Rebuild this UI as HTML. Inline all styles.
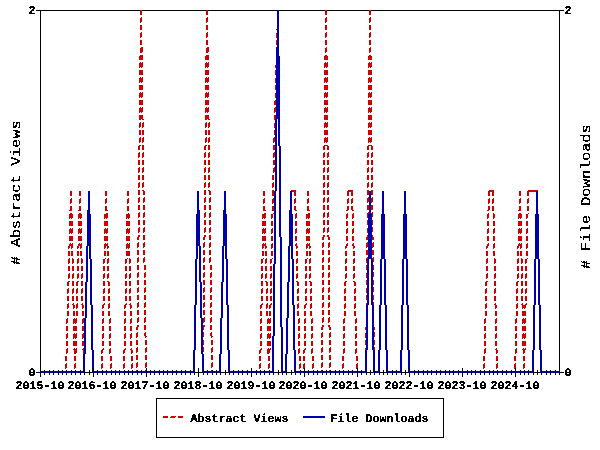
<!DOCTYPE html>
<html><head><meta charset="utf-8"><title>Abstract Views and File Downloads</title><style>
html,body{margin:0;padding:0;background:#fff;width:600px;height:450px;overflow:hidden;}
svg{display:block;will-change:transform;}
.t{font-family:"Liberation Mono",monospace;font-weight:bold;font-size:11.67px;letter-spacing:0.000px;fill:#000;text-rendering:geometricPrecision;}
.l{font-family:"Liberation Mono",monospace;font-weight:normal;font-size:14.75px;letter-spacing:0.000px;fill:#000;text-rendering:geometricPrecision;}
</style></head><body>
<svg width="600" height="450" viewBox="0 0 600 450">
<rect width="600" height="450" fill="#fff"/>
<defs><filter id="bt" x="0" y="0" width="600" height="450" filterUnits="userSpaceOnUse"><feComponentTransfer><feFuncA type="discrete" tableValues="0 1 1"/></feComponentTransfer></filter><filter id="bl" x="0" y="0" width="600" height="450" filterUnits="userSpaceOnUse"><feComponentTransfer><feFuncA type="discrete" tableValues="0 1 1"/></feComponentTransfer></filter></defs>
<path fill="#000" shape-rendering="crispEdges" d="M279 10h46v1h-46zM208 10h69v1h-69zM142 10h64v1h-64zM327 10h42v1h-42zM371 10h193v1h-193zM36 10h104v1h-104zM559 11h1v361h-1zM40 11h1v361h-1zM198 368h1v4h-1zM379 370h1v2h-1zM537 370h1v2h-1zM225 370h1v2h-1zM533 370h1v2h-1zM291 370h1v2h-1zM383 370h1v2h-1zM273 370h1v2h-1zM89 370h1v2h-1zM84 370h1v2h-1zM278 370h1v2h-1zM370 370h1v2h-1zM366 370h1v2h-1zM220 370h1v2h-1zM194 370h1v2h-1zM405 370h1v2h-1zM286 370h1v2h-1zM401 370h1v2h-1zM366 372h7v1h-7zM401 372h7v1h-7zM559 372h5v1h-5zM36 372h5v1h-5zM273 372h8v1h-8zM533 372h7v1h-7zM379 372h7v1h-7zM84 372h8v1h-8zM220 372h8v1h-8zM194 372h8v1h-8zM286 372h8v1h-8zM163 370h1v5h-1zM489 370h1v5h-1zM260 370h1v5h-1zM44 370h1v5h-1zM471 370h1v5h-1zM159 370h1v5h-1zM352 370h1v5h-1zM256 370h1v5h-1zM467 370h1v5h-1zM132 370h1v5h-1zM343 370h1v5h-1zM137 370h1v5h-1zM247 370h1v5h-1zM445 370h1v5h-1zM229 370h1v5h-1zM106 370h1v5h-1zM317 370h1v5h-1zM111 370h1v5h-1zM203 370h1v5h-1zM511 370h1v5h-1zM295 370h1v5h-1zM264 370h1v5h-1zM80 370h1v5h-1zM75 370h1v5h-1zM71 370h1v5h-1zM475 370h1v5h-1zM269 370h1v5h-1zM233 370h1v5h-1zM49 370h1v5h-1zM541 370h1v5h-1zM449 370h1v5h-1zM207 370h1v5h-1zM115 370h1v5h-1zM326 370h1v5h-1zM423 370h1v5h-1zM322 370h1v5h-1zM387 370h1v5h-1zM181 370h1v5h-1zM520 370h1v5h-1zM414 370h1v5h-1zM167 370h1v5h-1zM300 370h1v5h-1zM53 370h1v5h-1zM361 370h1v5h-1zM453 370h1v5h-1zM141 370h1v5h-1zM480 370h1v5h-1zM339 370h1v5h-1zM238 370h1v5h-1zM431 370h1v5h-1zM335 370h1v5h-1zM119 370h1v5h-1zM546 370h1v5h-1zM330 370h1v5h-1zM427 370h1v5h-1zM97 370h1v5h-1zM418 370h1v5h-1zM212 370h1v5h-1zM185 370h1v5h-1zM396 370h1v5h-1zM392 370h1v5h-1zM176 370h1v5h-1zM374 370h1v5h-1zM484 370h1v5h-1zM62 370h1v5h-1zM154 370h1v5h-1zM58 370h1v5h-1zM150 370h1v5h-1zM348 370h1v5h-1zM242 370h1v5h-1zM458 370h1v5h-1zM440 370h1v5h-1zM550 370h1v5h-1zM128 370h1v5h-1zM555 370h1v5h-1zM436 370h1v5h-1zM124 370h1v5h-1zM528 370h1v5h-1zM216 370h1v5h-1zM524 370h1v5h-1zM308 370h1v5h-1zM102 370h1v5h-1zM313 370h1v5h-1zM506 370h1v5h-1zM502 370h1v5h-1zM497 370h1v5h-1zM190 370h1v5h-1zM172 370h1v5h-1zM66 370h1v5h-1zM282 370h1v5h-1zM493 370h1v5h-1zM379 373h1v2h-1zM559 373h1v2h-1zM537 373h1v2h-1zM225 373h1v2h-1zM533 373h1v2h-1zM291 373h1v2h-1zM383 373h1v2h-1zM273 373h1v2h-1zM89 373h1v2h-1zM84 373h1v2h-1zM278 373h1v2h-1zM370 373h1v2h-1zM366 373h1v2h-1zM220 373h1v2h-1zM194 373h1v2h-1zM405 373h1v2h-1zM286 373h1v2h-1zM401 373h1v2h-1zM515 368h1v9h-1zM462 368h1v9h-1zM93 368h1v9h-1zM146 368h1v9h-1zM304 368h1v9h-1zM409 368h1v9h-1zM251 368h1v9h-1zM357 368h1v9h-1zM40 373h1v4h-1zM198 373h1v4h-1zM156 398h288v1h-288zM443 399h1v38h-1zM156 399h1v38h-1zM156 437h288v1h-288z"/>
<path fill="#cc0000" shape-rendering="crispEdges" d="M325 10h2v5h-2zM369 10h2v5h-2zM140 10h2v5h-2zM206 10h2v5h-2zM207 17h1v1h-1zM326 17h1v1h-1zM370 17h1v1h-1zM141 17h1v1h-1zM325 18h2v4h-2zM369 18h2v4h-2zM140 18h2v4h-2zM206 18h2v4h-2zM140 22h1v1h-1zM325 22h1v1h-1zM206 22h1v1h-1zM369 22h1v1h-1zM325 25h2v5h-2zM369 25h2v5h-2zM140 25h2v5h-2zM206 25h2v5h-2zM276 29h1v1h-1zM207 32h1v1h-1zM326 32h1v1h-1zM370 32h1v1h-1zM141 32h1v1h-1zM140 33h2v4h-2zM325 33h2v4h-2zM206 33h2v4h-2zM369 33h2v4h-2zM276 33h1v5h-1zM206 37h1v1h-1zM369 37h1v1h-1zM140 37h1v1h-1zM325 37h1v1h-1zM276 40h1v5h-1zM140 40h2v5h-2zM325 40h2v5h-2zM206 40h2v5h-2zM369 40h2v5h-2zM370 47h1v1h-1zM141 47h2v1h-2zM326 47h1v1h-1zM207 47h2v1h-2zM325 48h2v4h-2zM369 48h2v4h-2zM206 48h3v4h-3zM140 48h3v4h-3zM325 52h1v1h-1zM369 52h1v1h-1zM140 52h2v1h-2zM206 52h2v1h-2zM325 55h2v1h-2zM369 55h2v1h-2zM206 55h3v1h-3zM140 55h3v1h-3zM324 56h4v4h-4zM139 56h4v4h-4zM368 56h4v4h-4zM205 56h4v4h-4zM206 62h1v1h-1zM208 62h1v1h-1zM369 62h1v1h-1zM327 62h1v1h-1zM371 62h1v1h-1zM140 62h1v1h-1zM142 62h1v1h-1zM325 62h1v1h-1zM324 63h4v4h-4zM139 63h4v4h-4zM368 63h4v4h-4zM205 63h4v4h-4zM275 65h1v3h-1zM205 67h1v1h-1zM370 67h1v1h-1zM324 67h1v1h-1zM326 67h1v1h-1zM141 67h1v1h-1zM368 67h1v1h-1zM139 67h1v1h-1zM207 67h1v1h-1zM324 70h4v5h-4zM275 70h1v5h-1zM368 70h4v5h-4zM139 70h4v5h-4zM205 70h4v5h-4zM206 77h1v1h-1zM208 77h1v1h-1zM369 77h1v1h-1zM327 77h1v1h-1zM371 77h1v1h-1zM140 77h1v1h-1zM142 77h1v1h-1zM325 77h1v1h-1zM324 78h4v4h-4zM368 78h4v4h-4zM139 78h4v4h-4zM205 78h4v4h-4zM275 78h1v5h-1zM205 82h1v1h-1zM370 82h1v1h-1zM324 82h1v1h-1zM326 82h1v1h-1zM141 82h1v1h-1zM368 82h1v1h-1zM139 82h1v1h-1zM207 82h1v1h-1zM324 85h4v5h-4zM275 85h1v5h-1zM368 85h4v5h-4zM139 85h4v5h-4zM205 85h4v5h-4zM206 92h1v1h-1zM208 92h1v1h-1zM369 92h1v1h-1zM327 92h1v1h-1zM371 92h1v1h-1zM140 92h1v1h-1zM142 92h1v1h-1zM325 92h1v1h-1zM324 93h4v4h-4zM368 93h4v4h-4zM139 93h4v4h-4zM205 93h4v4h-4zM275 93h1v5h-1zM205 97h1v1h-1zM370 97h1v1h-1zM324 97h1v1h-1zM326 97h1v1h-1zM141 97h1v1h-1zM368 97h1v1h-1zM139 97h1v1h-1zM207 97h1v1h-1zM275 100h1v1h-1zM324 100h4v5h-4zM368 100h4v5h-4zM139 100h4v5h-4zM205 100h4v5h-4zM274 101h2v4h-2zM206 107h1v1h-1zM208 107h1v1h-1zM369 107h1v1h-1zM327 107h1v1h-1zM371 107h1v1h-1zM275 107h1v1h-1zM140 107h1v1h-1zM142 107h1v1h-1zM325 107h1v1h-1zM324 108h4v4h-4zM274 108h2v4h-2zM368 108h4v4h-4zM139 108h4v4h-4zM205 108h4v4h-4zM205 112h1v1h-1zM370 112h1v1h-1zM324 112h1v1h-1zM326 112h1v1h-1zM141 112h1v1h-1zM368 112h1v1h-1zM274 112h1v1h-1zM139 112h1v1h-1zM207 112h1v1h-1zM274 115h2v4h-2zM139 115h4v4h-4zM205 115h4v4h-4zM324 115h4v5h-4zM368 115h4v5h-4zM142 119h2v1h-2zM139 119h2v1h-2zM205 119h2v1h-2zM274 119h1v1h-1zM208 119h2v1h-2zM209 122h1v1h-1zM206 122h1v1h-1zM369 122h1v1h-1zM327 122h1v1h-1zM371 122h1v1h-1zM140 122h1v1h-1zM325 122h1v1h-1zM143 122h1v1h-1zM324 123h4v4h-4zM142 123h2v4h-2zM139 123h2v4h-2zM205 123h2v4h-2zM368 123h4v4h-4zM208 123h2v4h-2zM274 123h1v5h-1zM205 127h1v1h-1zM370 127h1v1h-1zM208 127h1v1h-1zM324 127h1v1h-1zM326 127h1v1h-1zM368 127h1v1h-1zM142 127h1v1h-1zM139 127h1v1h-1zM324 130h4v5h-4zM142 130h2v5h-2zM139 130h2v5h-2zM205 130h2v5h-2zM368 130h4v5h-4zM274 130h1v5h-1zM208 130h2v5h-2zM209 137h1v1h-1zM206 137h1v1h-1zM369 137h1v1h-1zM327 137h1v1h-1zM371 137h1v1h-1zM140 137h1v1h-1zM274 137h1v1h-1zM325 137h1v1h-1zM143 137h1v1h-1zM273 138h2v4h-2zM324 138h4v4h-4zM142 138h2v4h-2zM139 138h2v4h-2zM205 138h2v4h-2zM368 138h4v4h-4zM208 138h2v4h-2zM205 142h1v1h-1zM370 142h1v1h-1zM208 142h1v1h-1zM324 142h1v1h-1zM273 142h1v1h-1zM326 142h1v1h-1zM368 142h1v1h-1zM142 142h1v1h-1zM139 142h1v1h-1zM324 145h4v1h-4zM139 145h2v1h-2zM205 145h2v1h-2zM368 145h4v1h-4zM273 145h2v5h-2zM142 145h2v5h-2zM208 145h2v5h-2zM204 146h2v4h-2zM327 146h2v4h-2zM367 146h2v4h-2zM323 146h2v4h-2zM138 146h2v4h-2zM371 146h2v4h-2zM205 152h1v1h-1zM209 152h1v1h-1zM372 152h1v1h-1zM324 152h1v1h-1zM328 152h1v1h-1zM368 152h1v1h-1zM274 152h1v1h-1zM139 152h1v1h-1zM143 152h1v1h-1zM273 153h2v4h-2zM204 153h2v4h-2zM327 153h2v4h-2zM367 153h2v4h-2zM142 153h2v4h-2zM323 153h2v4h-2zM138 153h2v4h-2zM208 153h2v4h-2zM371 153h2v4h-2zM138 157h1v1h-1zM208 157h1v1h-1zM273 157h1v1h-1zM327 157h1v1h-1zM371 157h1v1h-1zM204 157h1v1h-1zM142 157h1v1h-1zM323 157h1v1h-1zM367 157h1v1h-1zM273 160h2v5h-2zM204 160h2v5h-2zM327 160h2v5h-2zM367 160h2v5h-2zM142 160h2v5h-2zM323 160h2v5h-2zM138 160h2v5h-2zM208 160h2v5h-2zM371 160h2v5h-2zM205 167h1v1h-1zM209 167h1v1h-1zM372 167h1v1h-1zM324 167h1v1h-1zM328 167h1v1h-1zM368 167h1v1h-1zM274 167h1v1h-1zM139 167h1v1h-1zM143 167h1v1h-1zM273 168h2v4h-2zM204 168h2v4h-2zM327 168h2v4h-2zM367 168h2v4h-2zM142 168h2v4h-2zM323 168h2v4h-2zM138 168h2v4h-2zM208 168h2v4h-2zM371 168h2v4h-2zM138 172h1v1h-1zM208 172h1v1h-1zM273 172h1v1h-1zM327 172h1v1h-1zM371 172h1v1h-1zM204 172h1v1h-1zM142 172h1v1h-1zM323 172h1v1h-1zM367 172h1v1h-1zM204 175h2v5h-2zM327 175h2v5h-2zM367 175h2v5h-2zM142 175h2v5h-2zM323 175h2v5h-2zM272 175h2v5h-2zM138 175h2v5h-2zM208 175h2v5h-2zM371 175h2v5h-2zM205 182h1v1h-1zM209 182h1v1h-1zM372 182h1v1h-1zM324 182h1v1h-1zM273 182h1v1h-1zM328 182h1v1h-1zM368 182h1v1h-1zM139 182h1v1h-1zM143 182h1v1h-1zM204 183h2v4h-2zM327 183h2v4h-2zM367 183h2v4h-2zM142 183h2v4h-2zM323 183h2v4h-2zM272 183h2v4h-2zM138 183h2v4h-2zM208 183h2v4h-2zM371 183h2v4h-2zM138 187h1v1h-1zM272 187h1v1h-1zM208 187h1v1h-1zM327 187h1v1h-1zM371 187h1v1h-1zM204 187h1v1h-1zM142 187h1v1h-1zM323 187h1v1h-1zM367 187h1v1h-1zM291 190h5v1h-5zM142 190h2v1h-2zM348 190h5v1h-5zM489 190h5v1h-5zM528 190h10v1h-10zM208 190h2v1h-2zM292 191h4v1h-4zM488 191h6v1h-6zM347 191h6v1h-6zM527 191h9v1h-9zM204 190h2v5h-2zM327 190h2v5h-2zM367 190h2v5h-2zM323 190h2v5h-2zM138 190h2v5h-2zM371 190h2v5h-2zM143 191h2v4h-2zM209 191h2v4h-2zM272 190h2v6h-2zM105 191h2v5h-2zM307 191h2v5h-2zM519 191h2v5h-2zM79 191h2v5h-2zM263 191h2v5h-2zM70 191h2v5h-2zM127 191h2v5h-2zM294 192h2v4h-2zM492 192h2v4h-2zM488 192h2v4h-2zM351 192h2v4h-2zM347 192h2v4h-2zM527 192h2v4h-2zM205 197h1v1h-1zM372 197h1v1h-1zM144 197h1v1h-1zM324 197h1v1h-1zM328 197h1v1h-1zM368 197h1v1h-1zM210 197h1v1h-1zM139 197h1v1h-1zM489 198h1v1h-1zM352 198h1v1h-1zM348 198h1v1h-1zM128 198h1v1h-1zM528 198h1v1h-1zM106 198h1v1h-1zM308 198h1v1h-1zM520 198h1v1h-1zM295 198h1v1h-1zM264 198h1v1h-1zM273 198h1v1h-1zM80 198h1v1h-1zM493 198h1v1h-1zM71 198h1v1h-1zM367 198h2v4h-2zM143 198h2v4h-2zM138 198h2v4h-2zM327 198h2v4h-2zM323 198h2v4h-2zM204 198h2v4h-2zM209 198h2v4h-2zM371 198h2v4h-2zM105 199h2v4h-2zM307 199h2v4h-2zM519 199h2v4h-2zM294 199h2v4h-2zM79 199h2v4h-2zM492 199h2v4h-2zM263 199h2v4h-2zM70 199h2v4h-2zM488 199h2v4h-2zM272 199h2v4h-2zM351 199h2v4h-2zM347 199h2v4h-2zM127 199h2v4h-2zM527 199h2v4h-2zM209 202h1v1h-1zM371 202h1v1h-1zM367 202h1v1h-1zM143 202h1v1h-1zM138 202h1v1h-1zM327 202h1v1h-1zM323 202h1v1h-1zM204 202h1v1h-1zM70 203h1v1h-1zM347 203h1v1h-1zM263 203h1v1h-1zM272 203h1v1h-1zM488 203h1v1h-1zM105 203h1v1h-1zM307 203h1v1h-1zM527 203h1v1h-1zM79 203h1v1h-1zM127 203h1v1h-1zM294 203h1v1h-1zM351 203h1v1h-1zM492 203h1v1h-1zM519 203h1v1h-1zM204 205h2v5h-2zM327 205h2v5h-2zM367 205h2v5h-2zM143 205h2v5h-2zM323 205h2v5h-2zM209 205h2v5h-2zM138 205h2v5h-2zM371 205h2v5h-2zM105 206h2v4h-2zM307 206h2v4h-2zM519 206h2v4h-2zM294 206h2v4h-2zM79 206h2v4h-2zM263 206h2v4h-2zM70 206h2v4h-2zM488 206h2v4h-2zM351 206h2v4h-2zM347 206h2v4h-2zM492 206h2v5h-2zM272 206h2v5h-2zM127 206h2v5h-2zM527 206h2v5h-2zM69 210h3v1h-3zM346 210h2v1h-2zM487 210h2v1h-2zM352 210h2v1h-2zM78 210h3v1h-3zM263 210h3v1h-3zM105 210h3v1h-3zM307 210h3v1h-3zM295 210h2v1h-2zM518 210h3v1h-3zM205 212h1v1h-1zM372 212h1v1h-1zM144 212h1v1h-1zM324 212h1v1h-1zM328 212h1v1h-1zM368 212h1v1h-1zM210 212h1v1h-1zM139 212h1v1h-1zM347 213h1v1h-1zM519 213h2v1h-2zM367 213h2v1h-2zM106 213h2v1h-2zM308 213h2v1h-2zM353 213h1v1h-1zM128 213h1v1h-1zM79 213h2v1h-2zM528 213h1v1h-1zM70 213h2v1h-2zM264 213h2v1h-2zM488 213h1v1h-1zM273 213h1v1h-1zM493 213h1v1h-1zM296 213h1v1h-1zM371 213h2v1h-2zM143 213h2v4h-2zM138 213h2v4h-2zM327 213h2v4h-2zM323 213h2v4h-2zM204 213h2v4h-2zM209 213h2v4h-2zM372 214h1v3h-1zM306 214h4v4h-4zM271 214h2v4h-2zM104 214h4v4h-4zM487 214h2v4h-2zM518 214h4v4h-4zM69 214h4v4h-4zM295 214h2v4h-2zM367 214h1v4h-1zM78 214h4v4h-4zM346 214h2v4h-2zM493 214h2v4h-2zM262 214h4v4h-4zM526 214h2v4h-2zM352 214h2v4h-2zM126 214h4v4h-4zM209 217h1v1h-1zM143 217h1v1h-1zM138 217h1v1h-1zM327 217h1v1h-1zM323 217h1v1h-1zM204 217h1v1h-1zM306 218h1v1h-1zM526 218h1v1h-1zM352 218h1v1h-1zM104 218h1v1h-1zM128 218h1v1h-1zM518 218h1v1h-1zM69 218h1v1h-1zM271 218h1v1h-1zM78 218h1v1h-1zM106 218h1v1h-1zM487 218h1v1h-1zM262 218h1v1h-1zM308 218h1v1h-1zM520 218h1v1h-1zM295 218h1v1h-1zM126 218h1v1h-1zM264 218h1v1h-1zM346 218h1v1h-1zM80 218h1v1h-1zM493 218h1v1h-1zM71 218h1v1h-1zM372 220h1v5h-1zM204 220h2v5h-2zM327 220h2v5h-2zM143 220h2v5h-2zM323 220h2v5h-2zM209 220h2v5h-2zM367 220h1v5h-1zM138 220h2v5h-2zM306 221h4v5h-4zM271 221h2v5h-2zM104 221h4v5h-4zM487 221h2v5h-2zM518 221h4v5h-4zM69 221h4v5h-4zM295 221h2v5h-2zM78 221h4v5h-4zM346 221h2v5h-2zM493 221h2v5h-2zM262 221h4v5h-4zM526 221h2v5h-2zM352 221h2v5h-2zM126 221h4v5h-4zM205 227h1v1h-1zM144 227h1v1h-1zM324 227h1v1h-1zM328 227h1v1h-1zM210 227h1v1h-1zM139 227h1v1h-1zM72 228h1v1h-1zM81 228h1v1h-1zM347 228h1v1h-1zM494 228h1v1h-1zM527 228h1v1h-1zM127 228h1v1h-1zM265 228h1v1h-1zM353 228h1v1h-1zM105 228h1v1h-1zM307 228h1v1h-1zM519 228h1v1h-1zM129 228h1v1h-1zM79 228h1v1h-1zM107 228h1v1h-1zM309 228h1v1h-1zM70 228h1v1h-1zM488 228h1v1h-1zM263 228h1v1h-1zM272 228h1v1h-1zM521 228h1v1h-1zM296 228h1v1h-1zM372 227h1v5h-1zM143 228h2v4h-2zM138 228h2v4h-2zM327 228h2v4h-2zM323 228h2v4h-2zM204 228h2v4h-2zM209 228h2v4h-2zM367 228h1v5h-1zM306 229h4v4h-4zM271 229h2v4h-2zM104 229h4v4h-4zM487 229h2v4h-2zM518 229h4v4h-4zM69 229h4v4h-4zM295 229h2v4h-2zM78 229h4v4h-4zM346 229h2v4h-2zM493 229h2v4h-2zM262 229h4v4h-4zM526 229h2v4h-2zM352 229h2v4h-2zM126 229h4v4h-4zM209 232h1v1h-1zM143 232h1v1h-1zM138 232h1v1h-1zM327 232h1v1h-1zM323 232h1v1h-1zM204 232h1v1h-1zM306 233h1v1h-1zM526 233h1v1h-1zM352 233h1v1h-1zM104 233h1v1h-1zM128 233h1v1h-1zM518 233h1v1h-1zM69 233h1v1h-1zM271 233h1v1h-1zM78 233h1v1h-1zM106 233h1v1h-1zM487 233h1v1h-1zM262 233h1v1h-1zM308 233h1v1h-1zM520 233h1v1h-1zM295 233h1v1h-1zM126 233h1v1h-1zM264 233h1v1h-1zM346 233h1v1h-1zM80 233h1v1h-1zM493 233h1v1h-1zM71 233h1v1h-1zM372 235h1v2h-1zM204 235h2v2h-2zM327 235h2v2h-2zM323 235h2v2h-2zM367 235h1v2h-1zM138 235h2v2h-2zM143 235h2v5h-2zM209 235h2v5h-2zM137 237h2v3h-2zM372 237h2v3h-2zM322 237h2v3h-2zM203 237h2v3h-2zM328 237h2v3h-2zM366 237h2v3h-2zM306 236h4v5h-4zM271 236h2v5h-2zM104 236h4v5h-4zM487 236h2v5h-2zM518 236h4v5h-4zM69 236h4v5h-4zM295 236h2v5h-2zM78 236h4v5h-4zM346 236h2v5h-2zM493 236h2v5h-2zM262 236h4v5h-4zM526 236h2v5h-2zM352 236h2v5h-2zM126 236h4v5h-4zM138 242h1v1h-1zM144 242h1v1h-1zM373 242h1v1h-1zM204 242h1v1h-1zM210 242h1v1h-1zM329 242h1v1h-1zM323 242h1v1h-1zM367 242h1v1h-1zM72 243h1v1h-1zM81 243h1v1h-1zM347 243h1v1h-1zM494 243h1v1h-1zM527 243h1v1h-1zM127 243h1v1h-1zM265 243h1v1h-1zM353 243h1v1h-1zM105 243h1v1h-1zM307 243h1v1h-1zM519 243h1v1h-1zM129 243h1v1h-1zM79 243h1v1h-1zM107 243h1v1h-1zM309 243h1v1h-1zM70 243h1v1h-1zM488 243h1v1h-1zM263 243h1v1h-1zM272 243h1v1h-1zM521 243h1v1h-1zM296 243h1v1h-1zM306 244h4v2h-4zM104 244h4v2h-4zM487 244h2v2h-2zM518 244h4v2h-4zM69 244h4v2h-4zM295 244h2v2h-2zM78 244h4v2h-4zM346 244h2v2h-2zM262 244h4v2h-4zM352 244h2v2h-2zM137 243h2v4h-2zM143 243h2v4h-2zM372 243h2v4h-2zM322 243h2v4h-2zM203 243h2v4h-2zM328 243h2v4h-2zM209 243h2v4h-2zM366 243h2v4h-2zM271 244h2v4h-2zM493 244h2v4h-2zM526 244h2v4h-2zM126 244h4v4h-4zM262 246h2v2h-2zM345 246h2v2h-2zM107 246h2v2h-2zM309 246h2v2h-2zM520 246h2v2h-2zM80 246h2v2h-2zM296 246h2v2h-2zM71 246h2v2h-2zM306 246h2v2h-2zM517 246h2v2h-2zM77 246h2v2h-2zM265 246h2v2h-2zM104 246h2v2h-2zM68 246h2v2h-2zM486 246h2v2h-2zM353 246h2v2h-2zM209 247h1v1h-1zM366 247h1v1h-1zM137 247h1v1h-1zM143 247h1v1h-1zM372 247h1v1h-1zM322 247h1v1h-1zM203 247h1v1h-1zM328 247h1v1h-1zM306 248h1v1h-1zM517 248h1v1h-1zM526 248h1v1h-1zM77 248h1v1h-1zM265 248h1v1h-1zM104 248h1v1h-1zM68 248h1v1h-1zM486 248h1v1h-1zM353 248h1v1h-1zM128 248h1v1h-1zM271 248h1v1h-1zM262 248h1v1h-1zM345 248h1v1h-1zM107 248h1v1h-1zM309 248h1v1h-1zM520 248h1v1h-1zM126 248h1v1h-1zM80 248h1v1h-1zM493 248h1v1h-1zM296 248h1v1h-1zM71 248h1v1h-1zM137 250h2v5h-2zM366 250h2v5h-2zM322 250h2v5h-2zM203 250h2v5h-2zM143 250h2v5h-2zM209 250h2v5h-2zM328 250h2v5h-2zM372 250h2v5h-2zM271 251h2v5h-2zM262 251h2v5h-2zM345 251h2v5h-2zM107 251h2v5h-2zM309 251h2v5h-2zM520 251h2v5h-2zM80 251h2v5h-2zM493 251h2v5h-2zM296 251h2v5h-2zM71 251h2v5h-2zM306 251h2v5h-2zM517 251h2v5h-2zM526 251h2v5h-2zM77 251h2v5h-2zM265 251h2v5h-2zM104 251h2v5h-2zM126 251h4v5h-4zM68 251h2v5h-2zM486 251h2v5h-2zM353 251h2v5h-2zM138 257h1v1h-1zM144 257h1v1h-1zM373 257h1v1h-1zM204 257h1v1h-1zM210 257h1v1h-1zM329 257h1v1h-1zM323 257h1v1h-1zM367 257h1v1h-1zM72 258h1v1h-1zM81 258h1v1h-1zM494 258h1v1h-1zM108 258h1v1h-1zM527 258h1v1h-1zM127 258h1v1h-1zM297 258h1v1h-1zM372 258h2v1h-2zM266 258h1v1h-1zM105 258h1v1h-1zM307 258h1v1h-1zM518 258h1v1h-1zM69 258h1v1h-1zM78 258h1v1h-1zM354 258h1v1h-1zM129 258h1v1h-1zM487 258h1v1h-1zM366 258h2v1h-2zM263 258h1v1h-1zM272 258h1v1h-1zM346 258h1v1h-1zM310 258h1v1h-1zM521 258h1v1h-1zM137 258h2v4h-2zM143 258h2v4h-2zM322 258h2v4h-2zM203 258h2v4h-2zM328 258h2v4h-2zM209 258h2v4h-2zM373 259h1v3h-1zM366 259h1v4h-1zM129 259h2v4h-2zM345 259h2v4h-2zM107 259h2v4h-2zM125 259h2v4h-2zM309 259h2v4h-2zM103 259h2v4h-2zM525 259h2v4h-2zM296 259h2v4h-2zM72 259h2v4h-2zM521 259h2v4h-2zM305 259h2v4h-2zM81 259h2v4h-2zM517 259h2v4h-2zM494 259h2v4h-2zM77 259h2v4h-2zM265 259h2v4h-2zM68 259h2v4h-2zM486 259h2v4h-2zM261 259h2v4h-2zM270 259h2v4h-2zM353 259h2v4h-2zM209 262h1v1h-1zM137 262h1v1h-1zM143 262h1v1h-1zM322 262h1v1h-1zM203 262h1v1h-1zM328 262h1v1h-1zM72 263h1v1h-1zM81 263h1v1h-1zM494 263h1v1h-1zM517 263h1v1h-1zM77 263h1v1h-1zM265 263h1v1h-1zM261 263h1v1h-1zM68 263h1v1h-1zM486 263h1v1h-1zM270 263h1v1h-1zM353 263h1v1h-1zM296 263h1v1h-1zM129 263h1v1h-1zM345 263h1v1h-1zM107 263h1v1h-1zM309 263h1v1h-1zM125 263h1v1h-1zM103 263h1v1h-1zM525 263h1v1h-1zM521 263h1v1h-1zM305 263h1v1h-1zM137 265h2v5h-2zM322 265h2v5h-2zM373 265h1v5h-1zM210 265h2v5h-2zM366 265h1v5h-1zM203 265h2v5h-2zM328 265h2v5h-2zM144 265h2v5h-2zM129 266h2v5h-2zM345 266h2v5h-2zM107 266h2v5h-2zM125 266h2v5h-2zM309 266h2v5h-2zM103 266h2v5h-2zM525 266h2v5h-2zM296 266h2v5h-2zM72 266h2v5h-2zM521 266h2v5h-2zM305 266h2v5h-2zM81 266h2v5h-2zM517 266h2v5h-2zM494 266h2v5h-2zM77 266h2v5h-2zM265 266h2v5h-2zM68 266h2v5h-2zM486 266h2v5h-2zM261 266h2v5h-2zM270 266h2v5h-2zM353 266h2v5h-2zM145 272h1v1h-1zM138 272h1v1h-1zM211 272h1v1h-1zM204 272h1v1h-1zM329 272h1v1h-1zM323 272h1v1h-1zM306 273h1v1h-1zM108 273h1v1h-1zM526 273h1v1h-1zM522 273h1v1h-1zM297 273h1v1h-1zM104 273h1v1h-1zM495 273h1v1h-1zM266 273h1v1h-1zM82 273h1v1h-1zM73 273h1v1h-1zM518 273h1v1h-1zM69 273h1v1h-1zM271 273h1v1h-1zM78 273h1v1h-1zM354 273h1v1h-1zM487 273h1v1h-1zM262 273h1v1h-1zM126 273h1v1h-1zM346 273h1v1h-1zM130 273h1v1h-1zM310 273h1v1h-1zM373 272h1v5h-1zM137 273h2v4h-2zM322 273h2v4h-2zM203 273h2v4h-2zM328 273h2v4h-2zM144 273h2v4h-2zM210 273h2v4h-2zM366 273h1v5h-1zM129 274h2v4h-2zM345 274h2v4h-2zM107 274h2v4h-2zM125 274h2v4h-2zM309 274h2v4h-2zM103 274h2v4h-2zM525 274h2v4h-2zM296 274h2v4h-2zM72 274h2v4h-2zM521 274h2v4h-2zM305 274h2v4h-2zM81 274h2v4h-2zM517 274h2v4h-2zM494 274h2v4h-2zM77 274h2v4h-2zM265 274h2v4h-2zM68 274h2v4h-2zM486 274h2v4h-2zM261 274h2v4h-2zM270 274h2v4h-2zM353 274h2v4h-2zM210 277h1v1h-1zM137 277h1v1h-1zM322 277h1v1h-1zM203 277h1v1h-1zM144 277h1v1h-1zM328 277h1v1h-1zM72 278h1v1h-1zM81 278h1v1h-1zM494 278h1v1h-1zM517 278h1v1h-1zM77 278h1v1h-1zM265 278h1v1h-1zM261 278h1v1h-1zM68 278h1v1h-1zM486 278h1v1h-1zM270 278h1v1h-1zM353 278h1v1h-1zM296 278h1v1h-1zM129 278h1v1h-1zM345 278h1v1h-1zM107 278h1v1h-1zM309 278h1v1h-1zM125 278h1v1h-1zM103 278h1v1h-1zM525 278h1v1h-1zM521 278h1v1h-1zM305 278h1v1h-1zM345 281h2v1h-2zM107 281h2v1h-2zM309 281h2v1h-2zM296 281h2v1h-2zM517 281h2v1h-2zM77 281h2v1h-2zM265 281h2v1h-2zM68 281h2v1h-2zM486 281h2v1h-2zM353 281h2v1h-2zM137 280h2v5h-2zM322 280h2v5h-2zM373 280h1v5h-1zM210 280h2v5h-2zM366 280h1v5h-1zM203 280h2v5h-2zM328 280h2v5h-2zM144 280h2v5h-2zM129 281h2v5h-2zM125 281h2v5h-2zM103 281h2v5h-2zM525 281h2v5h-2zM72 281h2v5h-2zM521 281h2v5h-2zM305 281h2v5h-2zM81 281h2v5h-2zM494 281h2v5h-2zM261 281h2v5h-2zM270 281h2v5h-2zM266 282h2v4h-2zM354 282h2v4h-2zM516 282h2v4h-2zM310 282h2v4h-2zM76 282h2v4h-2zM108 282h2v4h-2zM67 282h2v4h-2zM297 282h2v4h-2zM485 282h2v4h-2zM344 282h2v4h-2zM145 287h1v1h-1zM138 287h1v1h-1zM211 287h1v1h-1zM204 287h1v1h-1zM329 287h1v1h-1zM323 287h1v1h-1zM306 288h1v1h-1zM517 288h1v1h-1zM526 288h1v1h-1zM311 288h1v1h-1zM77 288h1v1h-1zM522 288h1v1h-1zM104 288h1v1h-1zM109 288h1v1h-1zM68 288h1v1h-1zM486 288h1v1h-1zM495 288h1v1h-1zM298 288h1v1h-1zM82 288h1v1h-1zM73 288h1v1h-1zM271 288h1v1h-1zM262 288h1v1h-1zM345 288h1v1h-1zM267 288h1v1h-1zM126 288h1v1h-1zM130 288h1v1h-1zM355 288h1v1h-1zM373 287h1v5h-1zM137 288h2v4h-2zM322 288h2v4h-2zM203 288h2v4h-2zM328 288h2v4h-2zM144 288h2v4h-2zM210 288h2v4h-2zM366 288h1v5h-1zM266 289h2v4h-2zM354 289h2v4h-2zM129 289h2v4h-2zM125 289h2v4h-2zM103 289h2v4h-2zM516 289h2v4h-2zM525 289h2v4h-2zM310 289h2v4h-2zM76 289h2v4h-2zM72 289h2v4h-2zM521 289h2v4h-2zM305 289h2v4h-2zM81 289h2v4h-2zM108 289h2v4h-2zM67 289h2v4h-2zM494 289h2v4h-2zM297 289h2v4h-2zM485 289h2v4h-2zM261 289h2v4h-2zM270 289h2v4h-2zM344 289h2v4h-2zM210 292h1v1h-1zM137 292h1v1h-1zM322 292h1v1h-1zM203 292h1v1h-1zM144 292h1v1h-1zM328 292h1v1h-1zM72 293h1v1h-1zM81 293h1v1h-1zM67 293h1v1h-1zM494 293h1v1h-1zM108 293h1v1h-1zM297 293h1v1h-1zM485 293h1v1h-1zM261 293h1v1h-1zM270 293h1v1h-1zM344 293h1v1h-1zM266 293h1v1h-1zM354 293h1v1h-1zM129 293h1v1h-1zM125 293h1v1h-1zM103 293h1v1h-1zM516 293h1v1h-1zM525 293h1v1h-1zM76 293h1v1h-1zM310 293h1v1h-1zM521 293h1v1h-1zM305 293h1v1h-1zM137 295h2v5h-2zM322 295h2v5h-2zM373 295h1v5h-1zM210 295h2v5h-2zM366 295h1v5h-1zM203 295h2v5h-2zM328 295h2v5h-2zM144 295h2v5h-2zM266 296h2v5h-2zM354 296h2v5h-2zM129 296h2v5h-2zM125 296h2v5h-2zM103 296h2v5h-2zM516 296h2v5h-2zM525 296h2v5h-2zM310 296h2v5h-2zM76 296h2v5h-2zM72 296h2v5h-2zM521 296h2v5h-2zM305 296h2v5h-2zM81 296h2v5h-2zM108 296h2v5h-2zM67 296h2v5h-2zM494 296h2v5h-2zM297 296h2v5h-2zM485 296h2v5h-2zM261 296h2v5h-2zM270 296h2v5h-2zM344 296h2v5h-2zM145 302h1v1h-1zM138 302h1v1h-1zM211 302h1v1h-1zM204 302h1v1h-1zM329 302h1v1h-1zM323 302h1v1h-1zM306 303h1v1h-1zM517 303h1v1h-1zM526 303h1v1h-1zM311 303h1v1h-1zM77 303h1v1h-1zM522 303h1v1h-1zM104 303h1v1h-1zM109 303h1v1h-1zM68 303h1v1h-1zM486 303h1v1h-1zM495 303h1v1h-1zM298 303h1v1h-1zM82 303h1v1h-1zM73 303h1v1h-1zM271 303h1v1h-1zM262 303h1v1h-1zM345 303h1v1h-1zM267 303h1v1h-1zM126 303h1v1h-1zM130 303h1v1h-1zM355 303h1v1h-1zM373 302h1v3h-1zM366 303h1v2h-1zM129 304h2v1h-2zM125 304h2v1h-2zM103 304h2v1h-2zM525 304h2v1h-2zM72 304h2v1h-2zM521 304h2v1h-2zM305 304h2v1h-2zM81 304h2v1h-2zM494 304h2v1h-2zM261 304h2v1h-2zM270 304h2v1h-2zM137 303h2v4h-2zM322 303h2v4h-2zM203 303h2v4h-2zM328 303h2v4h-2zM144 303h2v4h-2zM210 303h2v4h-2zM266 304h2v4h-2zM354 304h2v4h-2zM516 304h2v4h-2zM310 304h2v4h-2zM76 304h2v4h-2zM108 304h2v4h-2zM67 304h2v4h-2zM297 304h2v4h-2zM485 304h2v4h-2zM344 304h2v4h-2zM73 305h2v3h-2zM82 305h2v3h-2zM124 305h2v3h-2zM522 305h4v3h-4zM102 305h2v3h-2zM304 305h2v3h-2zM130 305h2v3h-2zM260 305h2v3h-2zM269 305h2v3h-2zM495 305h2v3h-2zM210 307h1v1h-1zM137 307h1v1h-1zM322 307h1v1h-1zM203 307h1v1h-1zM144 307h1v1h-1zM328 307h1v1h-1zM67 308h1v1h-1zM260 308h1v1h-1zM108 308h1v1h-1zM269 308h1v1h-1zM522 308h1v1h-1zM297 308h1v1h-1zM485 308h1v1h-1zM495 308h1v1h-1zM344 308h1v1h-1zM266 308h1v1h-1zM82 308h1v1h-1zM73 308h1v1h-1zM124 308h1v1h-1zM354 308h1v1h-1zM524 308h1v1h-1zM102 308h1v1h-1zM304 308h1v1h-1zM130 308h1v1h-1zM516 308h1v1h-1zM76 308h1v1h-1zM310 308h1v1h-1zM137 310h2v5h-2zM322 310h2v5h-2zM210 310h2v5h-2zM203 310h2v5h-2zM328 310h2v5h-2zM144 310h2v5h-2zM73 311h2v5h-2zM82 311h2v5h-2zM266 311h2v5h-2zM124 311h2v5h-2zM354 311h2v5h-2zM522 311h4v5h-4zM102 311h2v5h-2zM304 311h2v5h-2zM130 311h2v5h-2zM516 311h2v5h-2zM310 311h2v5h-2zM76 311h2v5h-2zM108 311h2v5h-2zM67 311h2v5h-2zM260 311h2v5h-2zM269 311h2v5h-2zM297 311h2v5h-2zM485 311h2v5h-2zM495 311h2v5h-2zM344 311h2v5h-2zM145 317h1v1h-1zM138 317h1v1h-1zM211 317h1v1h-1zM204 317h1v1h-1zM329 317h1v1h-1zM323 317h1v1h-1zM67 318h1v1h-1zM485 318h1v1h-1zM261 318h1v1h-1zM270 318h1v1h-1zM344 318h1v1h-1zM110 318h1v1h-1zM523 318h1v1h-1zM496 318h1v1h-1zM312 318h1v1h-1zM299 318h1v1h-1zM74 318h1v1h-1zM83 318h1v1h-1zM268 318h1v1h-1zM125 318h1v1h-1zM103 318h1v1h-1zM516 318h1v1h-1zM525 318h1v1h-1zM356 318h1v1h-1zM76 318h1v1h-1zM131 318h1v1h-1zM305 318h1v1h-1zM137 318h2v4h-2zM322 318h2v4h-2zM203 318h2v4h-2zM328 318h2v4h-2zM144 318h2v4h-2zM210 318h2v4h-2zM82 319h2v4h-2zM124 319h2v4h-2zM522 319h4v4h-4zM515 319h2v4h-2zM102 319h2v4h-2zM304 319h2v4h-2zM73 319h4v4h-4zM355 319h2v4h-2zM66 319h2v4h-2zM130 319h2v4h-2zM484 319h2v4h-2zM267 319h4v4h-4zM260 319h2v4h-2zM311 319h2v4h-2zM343 319h2v4h-2zM109 319h2v4h-2zM495 319h2v4h-2zM298 319h2v4h-2zM210 322h1v1h-1zM137 322h1v1h-1zM322 322h1v1h-1zM203 322h1v1h-1zM144 322h1v1h-1zM328 322h1v1h-1zM260 323h1v1h-1zM269 323h1v1h-1zM311 323h1v1h-1zM522 323h1v1h-1zM109 323h1v1h-1zM495 323h1v1h-1zM343 323h1v1h-1zM298 323h1v1h-1zM82 323h1v1h-1zM73 323h1v1h-1zM124 323h1v1h-1zM515 323h1v1h-1zM524 323h1v1h-1zM102 323h1v1h-1zM304 323h1v1h-1zM267 323h1v1h-1zM130 323h1v1h-1zM355 323h1v1h-1zM66 323h1v1h-1zM75 323h1v1h-1zM484 323h1v1h-1zM137 325h2v2h-2zM322 325h2v2h-2zM203 325h2v2h-2zM328 325h2v2h-2zM210 325h2v5h-2zM144 325h2v5h-2zM321 327h2v3h-2zM136 327h2v3h-2zM203 327h1v3h-1zM329 327h2v3h-2zM365 327h1v3h-1zM374 327h1v3h-1zM82 326h2v5h-2zM124 326h2v5h-2zM522 326h4v5h-4zM515 326h2v5h-2zM102 326h2v5h-2zM304 326h2v5h-2zM73 326h4v5h-4zM355 326h2v5h-2zM66 326h2v5h-2zM130 326h2v5h-2zM484 326h2v5h-2zM267 326h4v5h-4zM260 326h2v5h-2zM311 326h2v5h-2zM343 326h2v5h-2zM109 326h2v5h-2zM495 326h2v5h-2zM298 326h2v5h-2zM145 332h1v1h-1zM137 332h1v1h-1zM330 332h1v1h-1zM211 332h1v1h-1zM322 332h1v1h-1zM67 333h1v1h-1zM485 333h1v1h-1zM261 333h1v1h-1zM270 333h1v1h-1zM344 333h1v1h-1zM110 333h1v1h-1zM523 333h1v1h-1zM496 333h1v1h-1zM312 333h1v1h-1zM299 333h1v1h-1zM74 333h1v1h-1zM83 333h1v1h-1zM268 333h1v1h-1zM125 333h1v1h-1zM103 333h1v1h-1zM516 333h1v1h-1zM525 333h1v1h-1zM356 333h1v1h-1zM76 333h1v1h-1zM131 333h1v1h-1zM305 333h1v1h-1zM144 333h2v3h-2zM210 333h2v3h-2zM374 332h1v5h-1zM203 332h1v5h-1zM321 333h2v4h-2zM136 333h2v4h-2zM329 333h2v4h-2zM211 336h2v1h-2zM145 336h2v1h-2zM365 333h1v5h-1zM82 334h2v4h-2zM124 334h2v4h-2zM522 334h4v4h-4zM515 334h2v4h-2zM102 334h2v4h-2zM304 334h2v4h-2zM73 334h4v4h-4zM355 334h2v4h-2zM66 334h2v4h-2zM130 334h2v4h-2zM484 334h2v4h-2zM267 334h4v4h-4zM260 334h2v4h-2zM311 334h2v4h-2zM343 334h2v4h-2zM109 334h2v4h-2zM495 334h2v4h-2zM298 334h2v4h-2zM136 337h1v1h-1zM145 337h1v1h-1zM329 337h1v1h-1zM321 337h1v1h-1zM211 337h1v1h-1zM260 338h1v1h-1zM269 338h1v1h-1zM311 338h1v1h-1zM522 338h1v1h-1zM109 338h1v1h-1zM495 338h1v1h-1zM343 338h1v1h-1zM298 338h1v1h-1zM82 338h1v1h-1zM73 338h1v1h-1zM124 338h1v1h-1zM515 338h1v1h-1zM524 338h1v1h-1zM102 338h1v1h-1zM304 338h1v1h-1zM267 338h1v1h-1zM130 338h1v1h-1zM355 338h1v1h-1zM66 338h1v1h-1zM75 338h1v1h-1zM484 338h1v1h-1zM211 340h2v5h-2zM321 340h2v5h-2zM329 340h2v5h-2zM365 340h1v5h-1zM136 340h2v5h-2zM374 340h1v5h-1zM203 340h1v5h-1zM145 340h2v5h-2zM82 341h2v5h-2zM124 341h2v5h-2zM522 341h4v5h-4zM515 341h2v5h-2zM102 341h2v5h-2zM304 341h2v5h-2zM73 341h4v5h-4zM355 341h2v5h-2zM66 341h2v5h-2zM130 341h2v5h-2zM484 341h2v5h-2zM267 341h4v5h-4zM260 341h2v5h-2zM311 341h2v5h-2zM343 341h2v5h-2zM109 341h2v5h-2zM495 341h2v5h-2zM298 341h2v5h-2zM212 347h1v1h-1zM137 347h1v1h-1zM330 347h1v1h-1zM146 347h1v1h-1zM322 347h1v1h-1zM67 348h1v1h-1zM485 348h1v1h-1zM261 348h1v1h-1zM270 348h1v1h-1zM344 348h1v1h-1zM110 348h1v1h-1zM523 348h1v1h-1zM496 348h1v1h-1zM312 348h1v1h-1zM299 348h1v1h-1zM74 348h1v1h-1zM83 348h1v1h-1zM268 348h1v1h-1zM125 348h1v1h-1zM103 348h1v1h-1zM516 348h1v1h-1zM525 348h1v1h-1zM356 348h1v1h-1zM76 348h1v1h-1zM131 348h1v1h-1zM305 348h1v1h-1zM374 347h1v3h-1zM365 348h1v2h-1zM82 349h2v1h-2zM124 349h2v1h-2zM522 349h4v1h-4zM102 349h2v1h-2zM304 349h2v1h-2zM73 349h4v1h-4zM130 349h2v1h-2zM267 349h4v1h-4zM260 349h2v1h-2zM495 349h2v1h-2zM203 347h1v5h-1zM211 348h2v4h-2zM321 348h2v4h-2zM136 348h2v4h-2zM145 348h2v4h-2zM329 348h2v4h-2zM515 349h2v4h-2zM355 349h2v4h-2zM66 349h2v4h-2zM484 349h2v4h-2zM311 349h2v4h-2zM343 349h2v4h-2zM109 349h2v4h-2zM298 349h2v4h-2zM267 350h3v3h-3zM523 350h2v3h-2zM101 350h2v3h-2zM303 350h2v3h-2zM496 350h2v3h-2zM131 350h2v3h-2zM259 350h2v3h-2zM74 350h3v3h-3zM123 350h2v3h-2zM136 352h1v1h-1zM145 352h1v1h-1zM329 352h1v1h-1zM321 352h1v1h-1zM211 352h1v1h-1zM83 350h1v4h-1zM515 353h1v1h-1zM343 353h1v1h-1zM259 353h1v1h-1zM298 353h1v1h-1zM311 353h1v1h-1zM355 353h1v1h-1zM66 353h1v1h-1zM267 353h2v1h-2zM484 353h1v1h-1zM131 353h1v1h-1zM523 353h1v1h-1zM496 353h1v1h-1zM101 353h1v1h-1zM123 353h1v1h-1zM303 353h1v1h-1zM74 353h2v1h-2zM109 353h1v1h-1zM211 355h2v5h-2zM321 355h2v5h-2zM329 355h2v5h-2zM136 355h2v5h-2zM145 355h2v5h-2zM523 356h2v5h-2zM101 356h2v5h-2zM303 356h2v5h-2zM496 356h2v5h-2zM312 356h2v5h-2zM65 356h2v5h-2zM514 356h2v5h-2zM299 356h2v5h-2zM74 356h2v5h-2zM483 356h2v5h-2zM268 356h2v5h-2zM131 356h2v5h-2zM259 356h2v5h-2zM356 356h2v5h-2zM342 356h2v5h-2zM123 356h2v5h-2zM110 356h2v5h-2zM212 362h1v1h-1zM137 362h1v1h-1zM330 362h1v1h-1zM146 362h1v1h-1zM322 362h1v1h-1zM260 363h1v1h-1zM269 363h1v1h-1zM357 363h1v1h-1zM132 363h1v1h-1zM343 363h1v1h-1zM124 363h1v1h-1zM515 363h1v1h-1zM524 363h1v1h-1zM111 363h1v1h-1zM102 363h1v1h-1zM304 363h1v1h-1zM313 363h1v1h-1zM497 363h1v1h-1zM300 363h1v1h-1zM66 363h1v1h-1zM75 363h1v1h-1zM484 363h1v1h-1zM211 363h2v4h-2zM321 363h2v4h-2zM136 363h2v4h-2zM145 363h2v4h-2zM329 363h2v4h-2zM523 364h2v4h-2zM101 364h2v4h-2zM303 364h2v4h-2zM496 364h2v4h-2zM312 364h2v4h-2zM65 364h2v4h-2zM514 364h2v4h-2zM299 364h2v4h-2zM74 364h2v4h-2zM483 364h2v4h-2zM268 364h2v4h-2zM131 364h2v4h-2zM259 364h2v4h-2zM356 364h2v4h-2zM342 364h2v4h-2zM123 364h2v4h-2zM110 364h2v4h-2zM136 367h1v1h-1zM145 367h1v1h-1zM329 367h1v1h-1zM321 367h1v1h-1zM211 367h1v1h-1zM299 368h1v1h-1zM74 368h1v1h-1zM65 368h1v1h-1zM110 368h1v1h-1zM259 368h1v1h-1zM523 368h1v1h-1zM496 368h1v1h-1zM356 368h1v1h-1zM131 368h1v1h-1zM312 368h1v1h-1zM342 368h1v1h-1zM483 368h1v1h-1zM101 368h1v1h-1zM123 368h1v1h-1zM268 368h1v1h-1zM303 368h1v1h-1zM514 368h1v1h-1zM136 370h1v1h-1zM145 370h1v1h-1zM321 370h1v1h-1zM211 370h1v1h-1zM329 370h1v1h-1zM171 416h5v1h-5zM163 416h5v2h-5zM178 416h5v2h-5zM170 417h5v1h-5z"/>
<path fill="#0000aa" shape-rendering="crispEdges" d="M277 10h2v37h-2zM276 47h3v9h-3zM276 56h4v63h-4zM278 119h2v27h-2zM275 119h2v72h-2zM88 191h2v19h-2zM197 191h2v19h-2zM290 191h2v19h-2zM224 191h2v19h-2zM382 191h2v23h-2zM536 191h2v23h-2zM404 191h2v23h-2zM369 191h2v23h-2zM87 210h3v4h-3zM223 210h3v4h-3zM197 210h3v4h-3zM289 210h3v4h-3zM279 146h2v91h-2zM289 214h4v32h-4zM87 214h4v32h-4zM223 214h4v32h-4zM196 214h4v32h-4zM403 214h4v45h-4zM535 214h4v45h-4zM368 214h4v45h-4zM381 214h4v45h-4zM291 246h2v13h-2zM196 246h2v13h-2zM89 246h2v13h-2zM225 246h2v13h-2zM274 191h2v73h-2zM86 246h2v36h-2zM222 246h2v36h-2zM288 246h2v36h-2zM199 246h2v36h-2zM195 259h2v46h-2zM384 259h2v46h-2zM538 259h2v46h-2zM226 259h2v46h-2zM367 259h2v46h-2zM380 259h2v46h-2zM90 259h2v46h-2zM402 259h2v46h-2zM406 259h2v46h-2zM534 259h2v46h-2zM292 259h2v46h-2zM371 259h2v46h-2zM85 282h2v36h-2zM287 282h2v36h-2zM200 282h2v36h-2zM221 282h2v36h-2zM280 237h2v90h-2zM273 264h2v72h-2zM366 305h2v45h-2zM401 305h2v45h-2zM407 305h2v45h-2zM385 305h2v45h-2zM227 305h2v45h-2zM91 305h2v45h-2zM194 305h2v45h-2zM293 305h2v45h-2zM539 305h2v45h-2zM379 305h2v45h-2zM533 305h2v45h-2zM372 305h2v45h-2zM201 318h2v36h-2zM220 318h2v36h-2zM84 318h2v36h-2zM286 318h2v36h-2zM92 350h2v18h-2zM408 350h2v18h-2zM281 327h2v43h-2zM272 336h2v34h-2zM193 350h2v20h-2zM400 350h2v20h-2zM532 350h2v20h-2zM378 350h2v20h-2zM365 350h2v20h-2zM294 350h2v20h-2zM540 350h2v20h-2zM386 350h2v20h-2zM373 350h2v20h-2zM228 350h2v20h-2zM202 354h2v16h-2zM285 354h2v16h-2zM83 354h2v16h-2zM219 354h2v16h-2zM83 370h1v1h-1zM219 370h1v1h-1zM272 370h1v1h-1zM193 370h1v1h-1zM378 370h1v1h-1zM400 370h1v1h-1zM532 370h1v1h-1zM365 370h1v1h-1zM285 370h1v1h-1zM408 368h1v5h-1zM92 368h1v5h-1zM540 370h1v3h-1zM228 370h1v3h-1zM373 370h1v3h-1zM202 370h1v3h-1zM281 370h1v3h-1zM294 370h1v3h-1zM386 370h1v3h-1zM177 371h4v2h-4zM556 371h3v2h-3zM388 371h4v2h-4zM125 371h3v2h-3zM217 371h3v2h-3zM265 371h4v2h-4zM476 371h4v2h-4zM362 371h4v2h-4zM72 371h3v2h-3zM283 371h3v2h-3zM243 371h4v2h-4zM454 371h4v2h-4zM164 371h3v2h-3zM142 371h4v2h-4zM191 371h3v2h-3zM234 371h4v2h-4zM542 371h4v2h-4zM120 371h4v2h-4zM257 371h3v2h-3zM41 371h3v2h-3zM349 371h3v2h-3zM208 371h4v2h-4zM129 371h3v2h-3zM468 371h3v2h-3zM516 371h4v2h-4zM437 371h3v2h-3zM323 371h3v2h-3zM415 371h3v2h-3zM103 371h3v2h-3zM485 371h4v2h-4zM503 371h3v2h-3zM54 371h4v2h-4zM81 371h3v2h-3zM173 371h3v2h-3zM432 371h4v2h-4zM481 371h3v2h-3zM551 371h4v2h-4zM151 371h3v2h-3zM261 371h3v2h-3zM472 371h3v2h-3zM147 371h3v2h-3zM358 371h3v2h-3zM239 371h3v2h-3zM450 371h3v2h-3zM498 371h4v2h-4zM138 371h3v2h-3zM186 371h4v2h-4zM446 371h3v2h-3zM230 371h3v2h-3zM327 371h3v2h-3zM397 371h4v2h-4zM424 371h3v2h-3zM112 371h3v2h-3zM155 371h4v2h-4zM204 371h3v2h-3zM252 371h4v2h-4zM463 371h4v2h-4zM512 371h3v2h-3zM344 371h4v2h-4zM182 371h3v2h-3zM490 371h3v2h-3zM270 371h3v2h-3zM529 371h4v2h-4zM410 371h4v2h-4zM50 371h3v2h-3zM98 371h4v2h-4zM309 371h4v2h-4zM248 371h3v2h-3zM340 371h3v2h-3zM76 371h4v2h-4zM336 371h3v2h-3zM168 371h4v2h-4zM547 371h3v2h-3zM428 371h3v2h-3zM67 371h4v2h-4zM116 371h3v2h-3zM375 371h4v2h-4zM314 371h3v2h-3zM525 371h3v2h-3zM213 371h3v2h-3zM45 371h4v2h-4zM94 371h3v2h-3zM521 371h3v2h-3zM305 371h3v2h-3zM353 371h4v2h-4zM301 371h3v2h-3zM494 371h3v2h-3zM133 371h4v2h-4zM393 371h3v2h-3zM331 371h4v2h-4zM441 371h4v2h-4zM63 371h3v2h-3zM160 371h3v2h-3zM419 371h4v2h-4zM59 371h3v2h-3zM107 371h4v2h-4zM318 371h4v2h-4zM459 371h3v2h-3zM507 371h4v2h-4zM296 371h4v2h-4zM303 416h22v2h-22z"/>
<g filter="url(#bt)">
<text class="t" transform="translate(15.50,388.50) scale(1.000,1.000)">2015-10</text>
<text class="t" transform="translate(67.50,388.50) scale(1.000,1.000)">2016-10</text>
<text class="t" transform="translate(120.50,388.50) scale(1.000,1.000)">2017-10</text>
<text class="t" transform="translate(173.50,388.50) scale(1.000,1.000)">2018-10</text>
<text class="t" transform="translate(226.50,388.50) scale(1.000,1.000)">2019-10</text>
<text class="t" transform="translate(278.50,388.50) scale(1.000,1.000)">2020-10</text>
<text class="t" transform="translate(331.50,388.50) scale(1.000,1.000)">2021-10</text>
<text class="t" transform="translate(384.50,388.50) scale(1.000,1.000)">2022-10</text>
<text class="t" transform="translate(437.50,388.50) scale(1.000,1.000)">2023-10</text>
<text class="t" transform="translate(490.50,388.50) scale(1.000,1.000)">2024-10</text>
<text class="t" transform="translate(28.50,13.50) scale(1.000,1.000)">2</text>
<text class="t" transform="translate(28.50,375.50) scale(1.000,1.000)">0</text>
<text class="t" transform="translate(564.50,13.50) scale(1.000,1.000)">2</text>
<text class="t" transform="translate(564.50,375.50) scale(1.000,1.000)">0</text>
<text class="t" transform="translate(190.50,421.50) scale(1.000,1.000)">Abstract Views</text>
<text class="t" transform="translate(330.50,421.50) scale(1.000,1.000)">File Downloads</text>
</g>
<g filter="url(#bl)">
<text class="l" transform="translate(20.00,265.00) rotate(-90) scale(1.020,0.920)"># Abstract Views</text>
<text class="l" transform="translate(590.00,269.00) rotate(-90) scale(1.020,0.920)"># File Downloads</text>
</g>
</svg>
</body></html>
